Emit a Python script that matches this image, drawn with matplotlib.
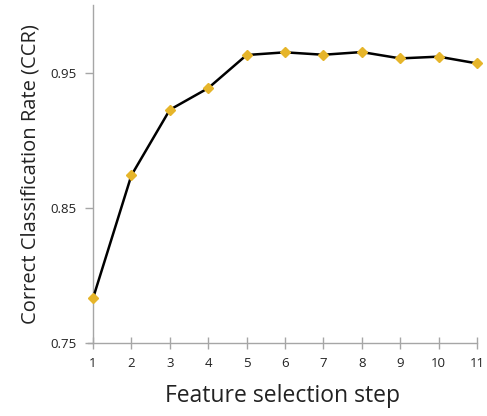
import matplotlib
matplotlib.use("Agg")
import matplotlib.pyplot as plt

steps = [1, 2, 3, 4, 5, 6, 7, 8, 9, 10, 11]
ccr = [0.783, 0.874, 0.9225, 0.9385, 0.963, 0.965, 0.9632, 0.9652, 0.9605, 0.9618, 0.9568]
y_ticks = [0.75, 0.85, 0.95]
y_tick_labels = ["0.75", "0.85", "0.95"]

plt.rcParams['font.family'] = ['Open Sans', 'DejaVu Sans']

fig = plt.figure(figsize=(4.87, 4.16), dpi=100)
ax = fig.add_axes([88/487, 1-343/416, (477-88)/487, (343-5)/416])

ax.plot(steps, ccr, color='black', lw=1.8, marker='D', markersize=5,
        markerfacecolor='#E6B52A', markeredgecolor='#E6B52A', zorder=3,
        clip_on=False)

ax.set_xlim(0.87, 11)
ax.set_ylim(0.75, 1.0)
ax.spines['left'].set_position(('data', 1))
ax.spines['top'].set_visible(False)
ax.spines['right'].set_visible(False)
for s in ('left', 'bottom'):
    ax.spines[s].set_color('#A6A6A6')
    ax.spines[s].set_linewidth(1.0)

ax.set_xticks(steps)
ax.set_xticklabels([str(s) for s in steps])
ax.set_yticks(y_ticks)
ax.set_yticklabels(y_tick_labels)
ax.tick_params(axis='x', direction='inout', length=8, width=1, color='#A6A6A6',
               labelsize=9.5, pad=6, labelcolor='#222222')
ax.tick_params(axis='y', direction='out', length=6, width=1, color='#A6A6A6',
               labelsize=9.5, pad=6, labelcolor='#222222')

ax.set_xlabel('Feature selection step', fontsize=16.5, color='#222222', labelpad=10)
ax.set_ylabel('Correct Classification Rate (CCR)', fontsize=14.5, color='#222222', labelpad=7)

fig.savefig('out.png', dpi=100)
